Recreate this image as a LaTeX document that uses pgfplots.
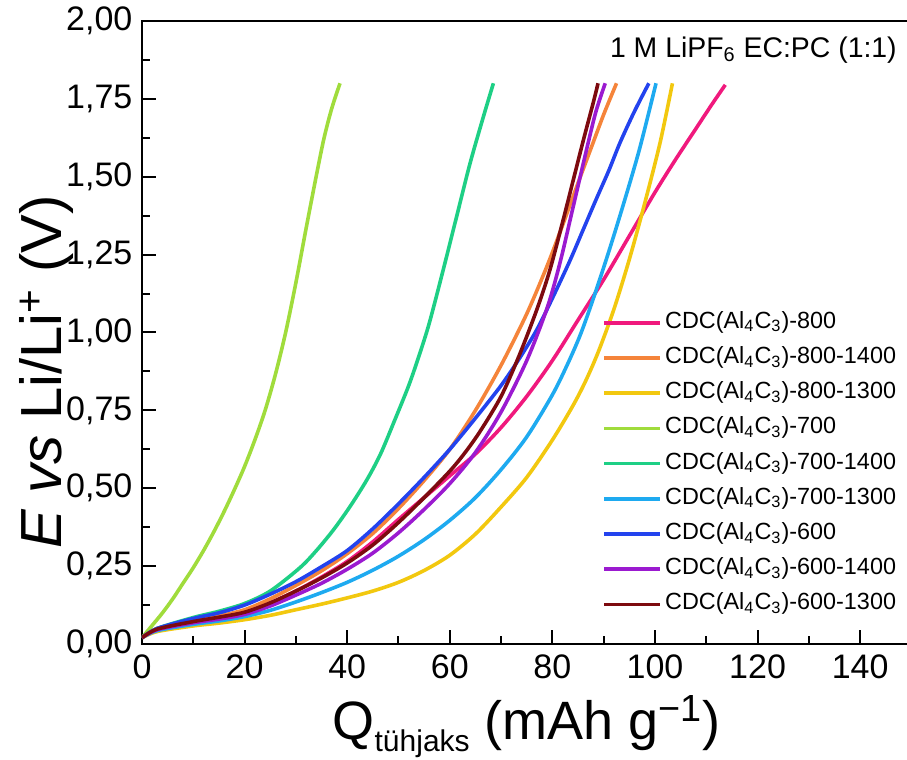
\documentclass[border=0pt]{standalone}
\usepackage{fontspec}
\setmainfont{Liberation Sans}
\usepackage{pgfplots}
\pgfplotsset{compat=1.18}
\definecolor{cpink}{HTML}{F0197D}
\definecolor{corange}{HTML}{F5843A}
\definecolor{cyellow}{HTML}{F2C80F}
\definecolor{clgreen}{HTML}{A0DC3C}
\definecolor{cteal}{HTML}{1ECF85}
\definecolor{csky}{HTML}{1EAAF0}
\definecolor{cblue}{HTML}{2343EE}
\definecolor{cpurple}{HTML}{9B1AD0}
\definecolor{cmaroon}{HTML}{7D0A0F}
\begin{document}
\begin{tikzpicture}
\path[use as bounding box] (-71pt,-58pt) rectangle (382.5pt,322pt);
\begin{axis}[
  at={(0pt,0pt)}, anchor=south west,
  scale only axis, width=384.75pt, height=311.5pt,
  xmin=0, xmax=150, ymin=0, ymax=2,
  xtick={0,20,...,140}, minor x tick num=1,
  ytick={0,0.25,...,2.0}, minor y tick num=1,
  xtick pos=left, ytick pos=left,
  tick align=inside,
  major tick length=7pt, minor tick length=3.8pt,
  every tick/.style={black, line width=1pt},
  axis line style={line width=1.2pt},
  /pgf/number format/assume math mode=true,
  tick label style={font=\fontsize{17}{17}\selectfont},
  xticklabel style={yshift=-2pt},
  yticklabel style={xshift=-1.3pt, /pgf/number format/.cd, fixed, fixed zerofill, precision=2, use comma},
  xlabel={Q\raisebox{-6pt}{\fontsize{15}{15}\selectfont tühjaks} (mAh g\textsuperscript{\char"2212 1})},
  xlabel style={font=\fontsize{27}{27}\selectfont, at={(axis description cs:0.5,-0.154)}, anchor=base},
  ylabel={\textit{E vs} Li/Li\textsuperscript{+} (V)},
  ylabel style={font=\fontsize{29}{29}\selectfont, at={(axis description cs:-0.1046,0.437)}, anchor=base},
  legend cell align=left,
  legend image code/.code={\draw[#1] (0pt,0pt) -- (28pt,0pt);},
  legend style={draw=none, fill=none, at={(rel axis cs:0.598,0.541)}, anchor=north west,
    font=\fontsize{11.7}{13}\selectfont, inner sep=0pt, row sep=2.1pt,
    nodes={text height=9pt, text depth=3.5pt, inner sep=1.5pt}},
  every axis plot/.append style={line width=1.8pt, smooth, tension=0.5},
]
\addplot[cpink] coordinates {(0,0.02)(3,0.047)(10,0.072)(15,0.087)(20,0.102)(25,0.132)(30,0.17)(35,0.215)(40,0.265)(45,0.328)(50,0.4)(55,0.47)(60,0.54)(65,0.61)(70,0.695)(75,0.795)(80,0.91)(85,1.04)(90,1.17)(95,1.31)(100,1.45)(104,1.555)(108,1.655)(111,1.73)(113.7,1.795)};
\addlegendentry{CDC(Al\textsubscript{4}C\textsubscript{3})-800}
\addplot[corange] coordinates {(0,0.02)(3,0.05)(10,0.075)(15,0.09)(20,0.11)(25,0.145)(30,0.188)(35,0.235)(40,0.29)(45,0.355)(50,0.435)(55,0.525)(60,0.625)(65,0.75)(70,0.895)(75,1.06)(79,1.215)(82,1.345)(85,1.48)(87.5,1.59)(90,1.7)(92.5,1.80)};
\addlegendentry{CDC(Al\textsubscript{4}C\textsubscript{3})-800-1400}
\addplot[cyellow] coordinates {(0,0.02)(3,0.04)(10,0.058)(15,0.067)(20,0.078)(25,0.092)(30,0.11)(35,0.128)(40,0.148)(45,0.17)(50,0.198)(55,0.236)(60,0.285)(65,0.353)(70,0.44)(75,0.535)(80,0.655)(84,0.765)(86.5,0.845)(89,0.94)(92,1.075)(95,1.235)(98,1.415)(101,1.61)(103.4,1.80)};
\addlegendentry{CDC(Al\textsubscript{4}C\textsubscript{3})-800-1300}
\addplot[clgreen] coordinates {(0,0.02)(2,0.06)(4,0.1)(6,0.145)(8,0.195)(10,0.245)(12,0.3)(14,0.36)(16,0.425)(18,0.495)(20,0.57)(22,0.655)(24,0.75)(26,0.865)(28,1.0)(30,1.16)(32,1.335)(34,1.505)(35.5,1.625)(37,1.72)(38.6,1.80)};
\addlegendentry{CDC(Al\textsubscript{4}C\textsubscript{3})-700}
\addplot[cteal] coordinates {(0,0.02)(3,0.05)(10,0.085)(15,0.105)(20,0.13)(25,0.17)(30.8,0.245)(34,0.3)(37.3,0.366)(40.5,0.44)(43.8,0.526)(46.5,0.61)(49.3,0.72)(52,0.83)(54,0.925)(56,1.03)(58.7,1.2)(61.3,1.37)(63.9,1.54)(66.5,1.69)(68.5,1.80)};
\addlegendentry{CDC(Al\textsubscript{4}C\textsubscript{3})-700-1400}
\addplot[csky] coordinates {(0,0.02)(3,0.043)(10,0.063)(15,0.074)(20,0.088)(25,0.108)(30,0.135)(35,0.165)(40,0.198)(45,0.237)(50,0.282)(55,0.335)(60,0.397)(65,0.47)(70,0.56)(75,0.665)(80,0.8)(83,0.9)(85.5,0.995)(88,1.11)(91,1.26)(94,1.42)(97,1.59)(100.2,1.80)};
\addlegendentry{CDC(Al\textsubscript{4}C\textsubscript{3})-700-1300}
\addplot[cblue] coordinates {(0,0.02)(3,0.05)(10,0.082)(15,0.1)(20,0.125)(25,0.16)(30,0.2)(35,0.248)(40,0.3)(45,0.37)(50,0.45)(55,0.535)(60,0.625)(65,0.725)(70,0.83)(73.7,0.92)(77,1.01)(80,1.11)(83.4,1.23)(86,1.33)(88.6,1.43)(91,1.52)(93.2,1.61)(96,1.71)(98.8,1.80)};
\addlegendentry{CDC(Al\textsubscript{4}C\textsubscript{3})-600}
\addplot[cpurple] coordinates {(0,0.02)(3,0.046)(10,0.068)(15,0.08)(20,0.095)(25,0.122)(30,0.157)(35,0.195)(40,0.24)(45,0.292)(50,0.357)(55,0.432)(60,0.515)(65,0.615)(70,0.745)(75,0.91)(79,1.08)(81.5,1.225)(84,1.4)(86.7,1.59)(88.5,1.71)(90.3,1.80)};
\addlegendentry{CDC(Al\textsubscript{4}C\textsubscript{3})-600-1400}
\addplot[cmaroon] coordinates {(0,0.02)(3,0.048)(10,0.072)(15,0.086)(20,0.102)(25,0.132)(30,0.17)(35,0.212)(40,0.26)(45,0.318)(50,0.39)(55,0.47)(60,0.555)(63,0.615)(66,0.685)(70,0.795)(73.5,0.925)(77,1.075)(79.5,1.2)(82,1.355)(84,1.485)(86,1.615)(88,1.74)(88.9,1.80)};
\addlegendentry{CDC(Al\textsubscript{4}C\textsubscript{3})-600-1300}
\node[anchor=base east, font=\fontsize{14.2}{14}\selectfont] at (rel axis cs:0.99,0.942) {1 M LiPF\textsubscript{6} EC:PC (1:1)};
\end{axis}
\end{tikzpicture}
\end{document}
